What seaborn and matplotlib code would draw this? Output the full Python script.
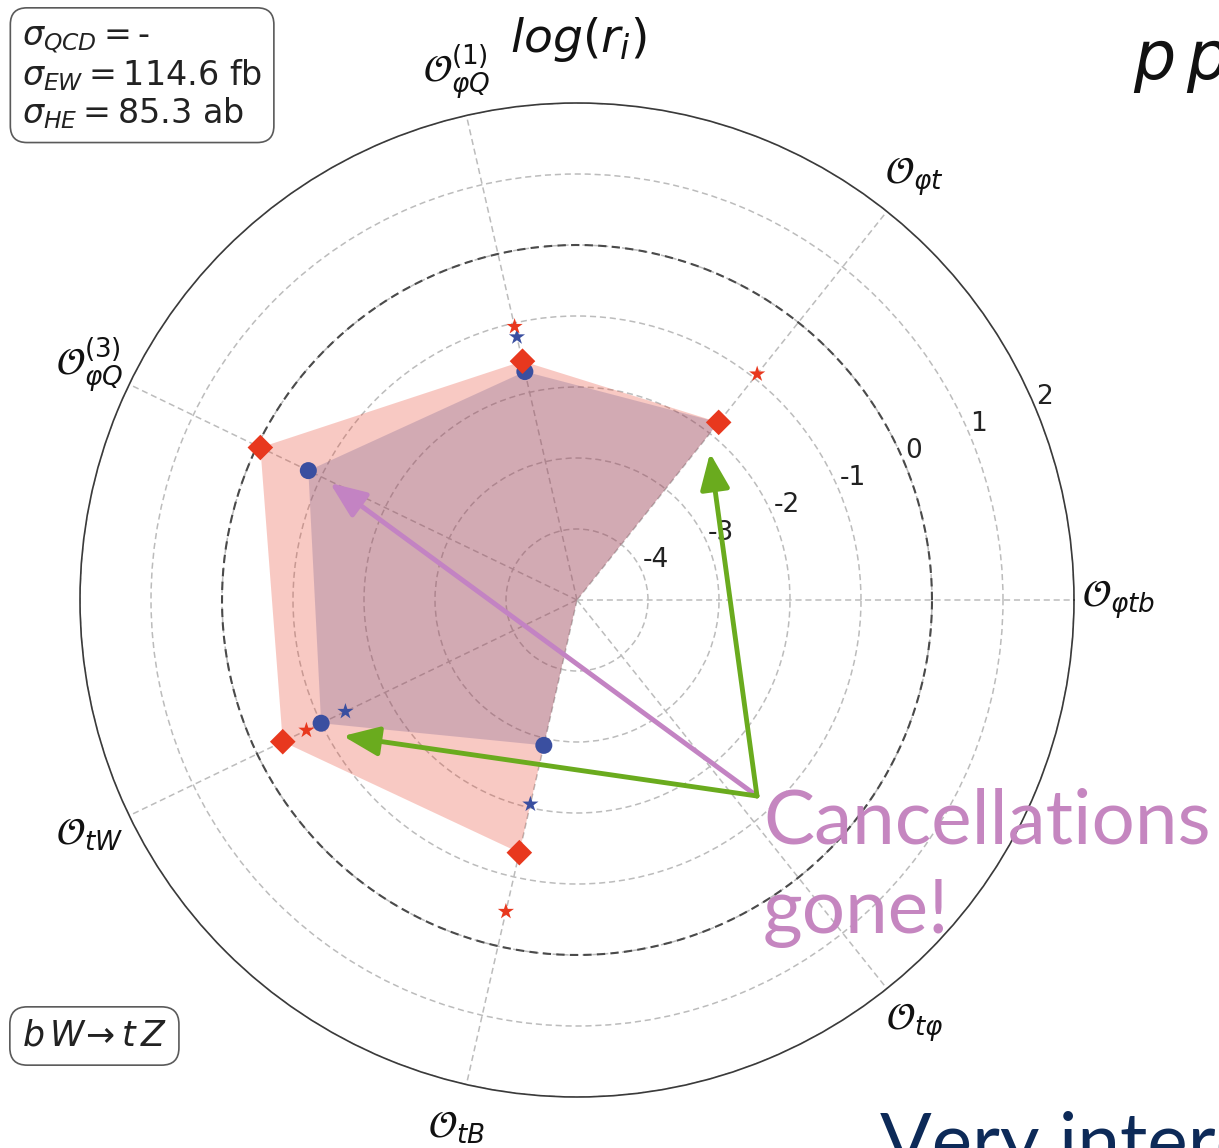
import numpy as np
import pandas as pd
import matplotlib
matplotlib.use("Agg")
import matplotlib.pyplot as plt
import seaborn as sns

# Operator axes (counter-clockwise from the right)
operators = [
    r"$\mathcal{O}_{\varphi tb}$",
    r"$\mathcal{O}_{\varphi t}$",
    r"$\mathcal{O}_{\varphi Q}^{(1)}$",
    r"$\mathcal{O}_{\varphi Q}^{(3)}$",
    r"$\mathcal{O}_{tW}$",
    r"$\mathcal{O}_{tB}$",
    r"$\mathcal{O}_{t\varphi}$",
]

# log(r_i) per operator
log_r_diamond = [-5.0, -1.80, -1.55, -0.05, -0.40, -1.35, -5.0]
log_r_circle = [-5.0, -1.80, -1.70, -0.80, -1.00, -2.90, -5.0]
log_r_star_red = [np.nan, -0.93, -1.05, np.nan, -0.77, -0.50, np.nan]
log_r_star_blue = [np.nan, np.nan, -1.20, np.nan, -1.38, -2.05, np.nan]

r_ticks = [-4, -3, -2, -1, 0, 1, 2]
R_MIN, R_MAX = -5, 2

sns.set_theme(style="white")
plt.rcParams["font.family"] = ["DejaVu Sans"]
plt.rcParams["mathtext.fontset"] = "dejavusans"

W, H = 1219, 1148
fig = plt.figure(figsize=(W / 100, H / 100), dpi=100)
fig.patch.set_facecolor("white")

ax = fig.add_axes([80 / W, 1 - 1097 / H, 994 / W, 994 / H], projection="polar")
ax.set_facecolor("white")

n = len(operators)
theta = np.arange(n) * 2 * np.pi / n

df = pd.DataFrame({
    "theta": theta,
    "operator": operators,
    "diamond": log_r_diamond,
    "circle": log_r_circle,
    "star_red": log_r_star_red,
    "star_blue": log_r_star_blue,
})

RED = "#e8381e"
BLUE = "#3a4fa0"

# filled radar polygons
closed = pd.concat([df, df.iloc[:1]], ignore_index=True)
ax.fill(closed["theta"], closed["diamond"], color="#e8402a", alpha=0.28, lw=0, zorder=2)
ax.fill(closed["theta"], closed["circle"], color="#645087", alpha=0.25, lw=0, zorder=3)

# reference circle at log(r)=0
ring = np.linspace(0, 2 * np.pi, 400)
ax.plot(ring, np.zeros_like(ring), color="#4a4a4a", lw=1.5,
        linestyle=(0, (4, 2.5)), zorder=1.5)

# markers (points at the origin are not marked)
vis = lambda col: df[df[col] > R_MIN]
sns.scatterplot(data=vis("circle"), x="theta", y="circle", ax=ax, marker="o",
                s=150, color=BLUE, edgecolor="none", zorder=5, legend=False)
sns.scatterplot(data=vis("diamond"), x="theta", y="diamond", ax=ax, marker="D",
                s=170, color=RED, edgecolor="none", zorder=6, legend=False)
sns.scatterplot(data=vis("star_blue"), x="theta", y="star_blue", ax=ax, marker="*",
                s=150, color=BLUE, edgecolor="none", zorder=7, legend=False)
sns.scatterplot(data=vis("star_red"), x="theta", y="star_red", ax=ax, marker="*",
                s=150, color=RED, edgecolor="none", zorder=8, legend=False)

ax.set_rlim(R_MIN, R_MAX)
ax.set_xticks(theta)
ax.set_xticklabels([])
ax.set_yticks(r_ticks)
ax.set_yticklabels([str(t) for t in r_ticks], fontsize=19, color="#222222")
ax.set_rlabel_position(22.5)
ax.set_xlabel("")
ax.set_ylabel("")
ax.grid(True, color="#bcbcbc", lw=1.1, linestyle=(0, (4, 2.5)))
ax.spines["polar"].set_color("#3a3a3a")
ax.spines["polar"].set_linewidth(1.2)
ax.tick_params(axis="both", length=0)

for t, lab in zip(theta, operators):
    ax.text(t, 2.62, lab, ha="center", va="center", fontsize=27, color="#111111",
            clip_on=False)

# titles and boxes
fig.text(578 / W, 1 - 40 / H, r"$log(r_i)$", ha="center", va="center",
         fontsize=34, color="#111111")
fig.text(1133 / W, 1 - 79 / H, r"$p\,p$", ha="left", va="baseline",
         fontsize=48, color="#111111")

box = dict(boxstyle="round,pad=0.35,rounding_size=0.5", fc="white", ec="#5a5a5a", lw=1.2)
fig.text(22 / W, 1 - 22 / H,
         "$\\sigma_{QCD} = $-\n$\\sigma_{EW} = $114.6 fb\n$\\sigma_{HE} = $85.3 ab",
         ha="left", va="top", fontsize=24, color="#222222", linespacing=1.08, bbox=box)
fig.text(22 / W, 1 - 1036 / H, r"$b\,W\!\rightarrow t\,Z$", ha="left", va="center",
         fontsize=25, color="#222222", bbox=box)

# annotation arrows
start = (757, H - 796)
arrows = [((330, H - 483), "#c383c3"), ((710, H - 453), "#6aab1e"), ((343, H - 736), "#6aab1e")]
for tip, col in arrows:
    ax.annotate("", xy=tip, xycoords="figure pixels", xytext=start,
                textcoords="figure pixels",
                arrowprops=dict(arrowstyle="-|>,head_length=1.1,head_width=0.45",
                                color=col, lw=3.5, shrinkA=0, shrinkB=0,
                                mutation_scale=20),
                zorder=10)

fig.text(763 / W, 1 - 843 / H, "Cancellations", ha="left", va="baseline",
         fontsize=55, color="#c586c0", family=["Lato", "DejaVu Sans"])
fig.text(763 / W, 1 - 933 / H, "gone!", ha="left", va="baseline",
         fontsize=55, color="#c586c0", family=["Lato", "DejaVu Sans"])
fig.text(880 / W, 1 - 1167 / H, "Very interesting", ha="left", va="baseline",
         fontsize=55, color="#0d2a58", family=["Lato", "DejaVu Sans"])

fig.savefig("out.png", dpi=100, facecolor="white")
